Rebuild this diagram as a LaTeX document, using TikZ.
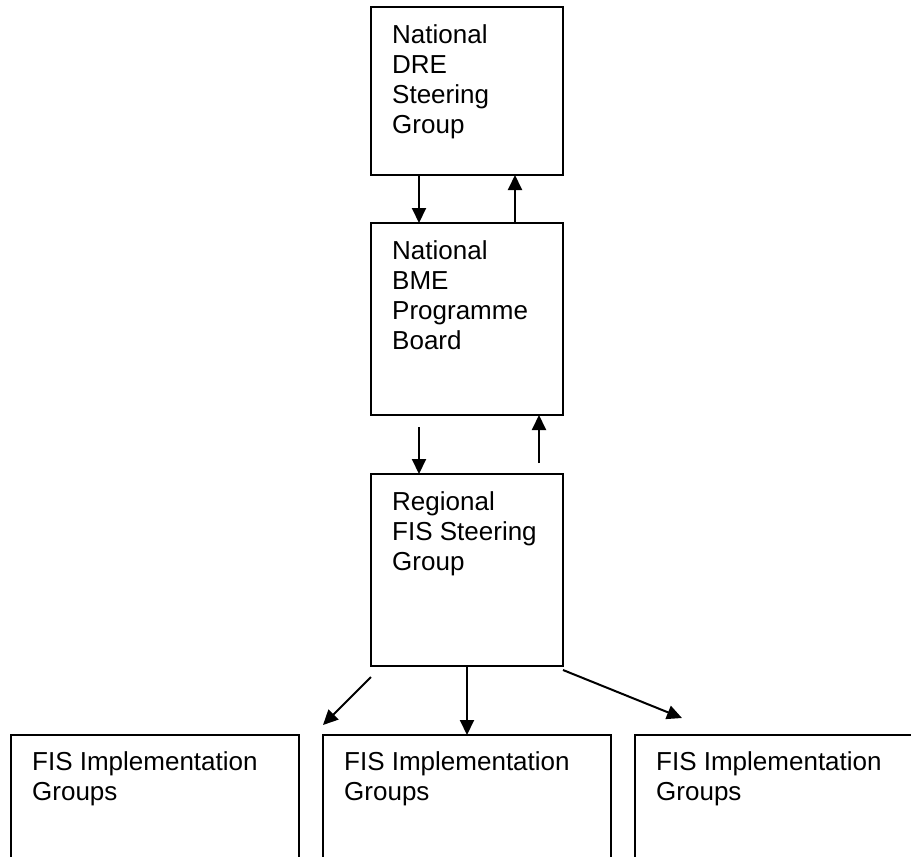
\documentclass[tikz,border=0pt]{standalone}
\usepackage{fontspec}
\setmainfont{Liberation Sans}
\usetikzlibrary{positioning,arrows.meta}

\begin{document}
\begin{tikzpicture}
  [x=1pt, y=-1pt, node distance=48pt,
   box/.style={draw, line width=2pt, inner sep=0pt, outer sep=0pt, minimum width=192pt},
   groupbox/.style={box, minimum width=288pt, minimum height=160pt, anchor=north west},
   boxtext/.style={anchor=north west, align=left, inner sep=0pt, font=\fontsize{26}{30}\selectfont},
   flow/.style={line width=2pt, -{Triangle[length=15pt,width=14pt]}}]
  \useasboundingbox (0,0) rectangle (911,857);
  % national and regional boxes
  \node[box, minimum height=168pt, anchor=north west] (dre) at (371,7) {};
  \node[box, minimum height=192pt, below=of dre] (bme) {};
  \node[box, minimum height=192pt, below=59pt of bme] (fis) {};
  \node[boxtext] (dreText) at ([shift={(21pt,-17pt)}]dre.north west) {National\\DRE\\Steering\\Group};
  \node[boxtext] (bmeText) at ([shift={(21pt,-17pt)}]bme.north west) {National\\BME\\Programme\\Board};
  \node[boxtext] (fisText) at ([shift={(21pt,-17pt)}]fis.north west) {Regional\\FIS Steering\\Group};
  % implementation groups
  \node[groupbox] (implA) at (11,735) {};
  \node[groupbox] (implB) at (323,735) {};
  \node[groupbox] (implC) at (635,735) {};
  \node[boxtext] (implAText) at ([shift={(21pt,-16pt)}]implA.north west) {FIS Implementation\\Groups};
  \node[boxtext] (implBText) at ([shift={(21pt,-16pt)}]implB.north west) {FIS Implementation\\Groups};
  \node[boxtext] (implCText) at ([shift={(21pt,-16pt)}]implC.north west) {FIS Implementation\\Groups};
  % arrows
  \draw[flow] ([xshift=-48pt]dre.south) -- ([xshift=-48pt]bme.north);
  \draw[flow] ([xshift=48pt]bme.north) -- ([xshift=48pt]dre.south);
  \draw[flow] ([shift={(-48pt,-12pt)}]bme.south) -- ([xshift=-48pt]fis.north);
  \draw[flow] ([shift={(72pt,11pt)}]fis.north) -- ([xshift=72pt]bme.south);
  \draw[flow] ([yshift=-11pt]fis.south west) -- ([yshift=10pt]implB.north west);
  \draw[flow] (fis.south) -- (implB.north);
  \draw[flow] ([yshift=-4pt]fis.south east) -- ([shift={(47pt,17pt)}]implC.north west);
\end{tikzpicture}
\end{document}
